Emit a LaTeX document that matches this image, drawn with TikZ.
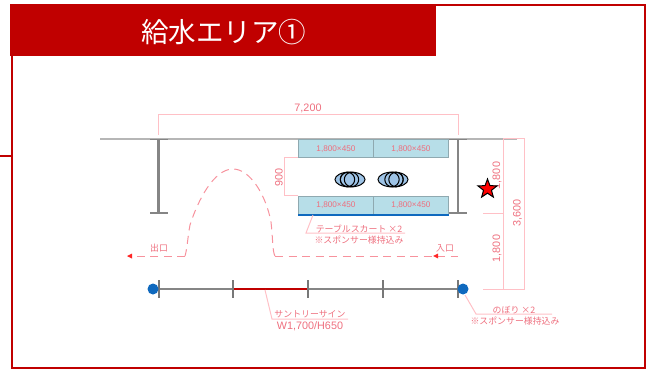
\documentclass[tikz,border=0pt]{standalone}
\usepackage{fontspec}
\setmainfont{Liberation Sans}
\newfontfamily\cjk{Noto Sans CJK JP}
\usetikzlibrary{shapes.geometric,arrows.meta}
\definecolor{frameRed}{HTML}{C00000}
\definecolor{dimLine}{HTML}{FFC0C6}
\definecolor{dimText}{HTML}{EE6F7E}
\definecolor{pathPink}{HTML}{F7929D}
\definecolor{wallGray}{HTML}{858585}
\definecolor{tableFill}{HTML}{B7DEE8}
\definecolor{tableEdge}{HTML}{8FA9B0}
\definecolor{dotBlue}{HTML}{0F69BE}
\definecolor{ovalBlue}{HTML}{9DC3E6}
\tikzset{
  x=1pt,y=-1pt,
  wall/.style={draw=wallGray,line width=1.6pt},
  dimen/.style={draw=dimLine,line width=1pt},
  dimlabel/.style={text=dimText,font=\fontsize{10.8}{12}\selectfont,inner sep=0pt},
  note/.style={text=dimText,font=\cjk\fontsize{8.9}{10}\selectfont,inner sep=0pt},
  tablebox/.style={draw=tableEdge,fill=tableFill,line width=0.9pt,minimum width=75pt,minimum height=18.5pt,inner sep=0pt,text=dimText,font=\fontsize{8.2}{9}\selectfont},
  walkway/.style={draw=pathPink,line width=1pt,dash pattern=on 8pt off 5.5pt},
  blueDot/.style={circle,fill=dotBlue,minimum size=11pt,inner sep=0pt},
  person/.style={draw=black,fill=ovalBlue,line width=1pt},
}
\begin{document}
\begin{tikzpicture}
\useasboundingbox (0,0) rectangle (649,369);
% frame and title
\draw[frameRed,line width=2pt] (12,5) rectangle (645,368);
\draw[frameRed,line width=1.2pt] (0,156) -- (12,156);
\node[fill=frameRed,minimum width=426pt,minimum height=52pt,inner sep=0pt,anchor=north west] (band) at (10,4) {};
\node[text=white,font=\cjk\fontsize{27.5}{30}\selectfont,inner sep=0pt] (title) at (223.5,32) {給水エリア①};
% walls
\draw[draw=wallGray!60,line width=1.6pt] (100,139) -- (517,139);
\draw[wall,line width=2.2pt] (158.5,139) -- (158.5,213);
\draw[wall] (150,139.5) -- (168,139.5) (150,213) -- (168,213);
\draw[wall,line width=2.2pt] (458,139) -- (458,213);
\draw[wall] (449,139.5) -- (467,139.5) (449,213) -- (467,213);
% tables
\node[tablebox,anchor=north west] (t1) at (298,139) {1,800×450};
\node[tablebox,anchor=north west] (t2) at (373,139) {1,800×450};
\node[tablebox,anchor=north west] (t3) at (298,195.5) {1,800×450};
\node[tablebox,anchor=north west] (t4) at (373,195.5) {1,800×450};
\draw[dotBlue,line width=1.5pt] (t3.south west) -- (t4.south east);
% people
\draw[person] (350,179.5) ellipse [x radius=15,y radius=7.5];
\draw[person] (347.5,179.5) circle [radius=7.2];
\draw[person] (351.5,179.5) circle [radius=7.2];
\draw[person,fill=none] (347.5,179.5) circle [radius=7.2];
\draw[person] (393,179.5) ellipse [x radius=15,y radius=7.5];
\draw[person] (396,179.5) circle [radius=7.2];
\draw[person] (392,179.5) circle [radius=7.2];
\draw[person,fill=none] (396,179.5) circle [radius=7.2];
% dims
\draw[dimen] (158.5,135) -- (158.5,114.5) -- (458,114.5) -- (458,135);
\node[dimlabel] (d72) at (308,108) {7,200};
\draw[dimen] (298,157.5) -- (284.5,157.5) -- (284.5,195) -- (298,195);
\node[dimlabel,rotate=90] (d90) at (279,177) {900};
\draw[dimen] (503,139) -- (524.5,139) -- (524.5,289) -- (483,289);
\draw[dimen] (503.5,139) -- (503.5,289);
\draw[dimen] (483,213) -- (503.5,213);
\node[dimlabel,rotate=90] (d18a) at (497,175.5) {1,800};
\node[dimlabel,rotate=90] (d18b) at (497,248.5) {1,800};
\node[dimlabel,rotate=90] (d36) at (517.5,213) {3,600};
% star
\node[star,star points=5,star point ratio=2.4,draw=black,fill=red,line width=1pt,minimum size=20pt,inner sep=0pt] (goal) at (487.5,189) {};
% walkway
\draw[walkway] (275,256) .. controls (272.5,252) and (273,240) .. (271,222) .. controls (266,195) and (250,169) .. (233,169) .. controls (214,169) and (198,200) .. (190,225) .. controls (188,235) and (187,250) .. (185,256);
\draw[walkway] (185,256) -- (128,256);
\draw[walkway] (275,256) -- (458,256);
\fill[red!85!white] (127,256) -- (132,253.5) -- (132,258.5) -- cycle;
\fill[red!85!white] (433,256) -- (438,253.5) -- (438,258.5) -- cycle;
\node[note] (exit) at (159,248) {出口};
\node[note] (enter) at (445,248) {入口};
% lower line
\draw[wall] (153,289) -- (463,289);
\draw[draw=frameRed,line width=1.6pt] (233,289) -- (308,289);
\foreach \i/\x in {a/158.5,b/233,c/308,d/383,e/458}{
  \draw[draw=wallGray!90!black,line width=2pt] (\x,280) -- (\x,298);
}
\node[blueDot] (dotL) at (153,289) {};
\node[blueDot] (dotR) at (463,289) {};
% leaders and notes
\draw[dimen] (313,215) -- (306,233) -- (405,233);
\node[note] (skirt) at (359,228.5) {テーブルスカート ×2};
\node[note] (skirt2) at (359,240) {※スポンサー様持込み};
\draw[dimen] (265,290) -- (272,319) -- (348,319);
\node[note] (sign) at (310,314.5) {サントリーサイン};
\node[dimlabel] (sign2) at (310,326) {W1,700/H650};
\draw[dimen] (465,295) -- (476,314) -- (552,314);
\node[note] (nobori) at (514,310) {のぼり ×2};
\node[note] (nobori2) at (515,321) {※スポンサー様持込み};
\end{tikzpicture}
\end{document}
